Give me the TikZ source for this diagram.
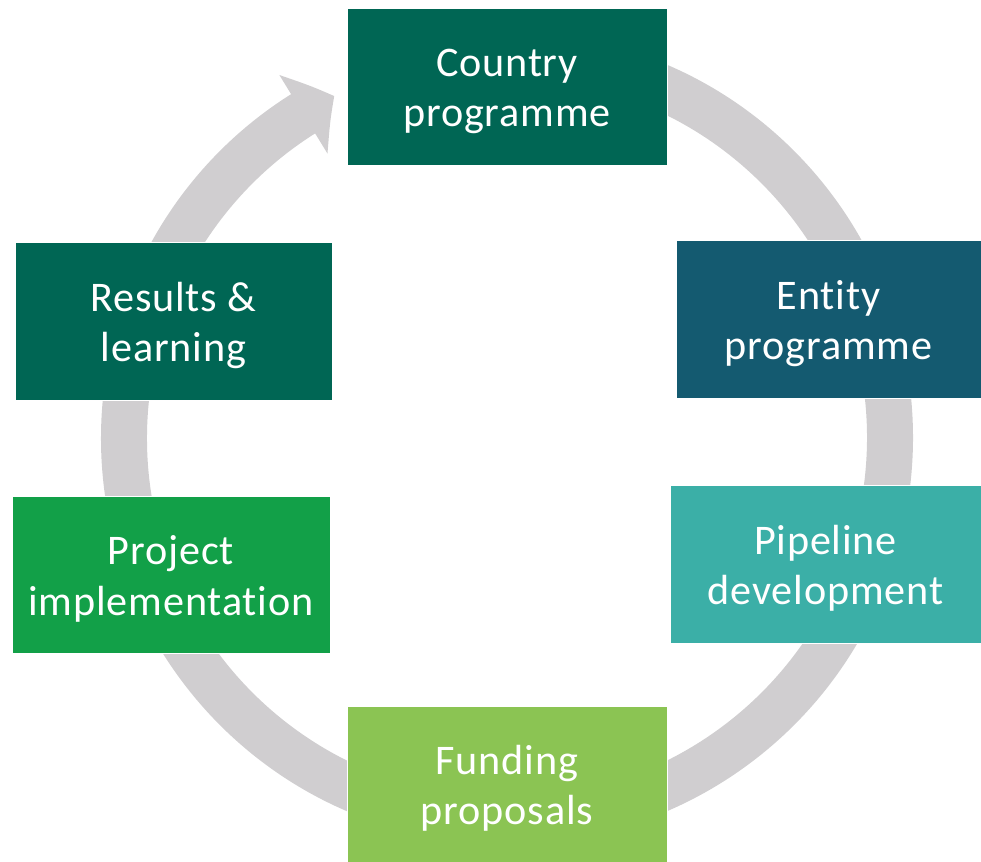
\documentclass[tikz,border=0pt]{standalone}
\usepackage{fontspec}
\newfontfamily\stagefont[Ligatures=NoCommon, LetterSpace=2]{Carlito}
\usepackage{tikz}
\usetikzlibrary{arrows.meta,bending,positioning,calc}
\definecolor{cpgreen}{RGB}{0,102,84}
\definecolor{entblue}{RGB}{20,90,112}
\definecolor{pipeteal}{RGB}{59,175,167}
\definecolor{fundlime}{RGB}{139,196,83}
\definecolor{projgreen}{RGB}{18,160,72}
\definecolor{ringgray}{RGB}{208,206,208}
\def\lift{\rule{0pt}{21.5pt}}
\tikzset{
  stage/.style={rectangle, draw=white, line width=0.5pt, text=white, align=center,
    font=\stagefont\fontsize{24}{28.5}\selectfont, inner sep=0pt},
  ring/.style={draw=ringgray, line width=0.92cm,
    -{Triangle[length=0.72cm, width=1.8cm, bend]}}
}

\begin{document}
\begin{tikzpicture}[x=0.02cm, y=0.02cm]
    \useasboundingbox (0,0) rectangle (981,862);
    % Centre and radius of the cycle
    \def\Rring{383}
    \coordinate (M) at (507,424);

    % Cycle ring with its head
    \draw[ring] ($(M)+(85:\Rring)$) arc (85:-243.2:\Rring);

    % Stages
    \node[stage, fill=cpgreen, minimum width=6.4cm, minimum height=3.14cm]
      (country) at (507,775.5) {\lift Country\\programme};
    \node[stage, fill=entblue, minimum width=6.1cm, minimum height=3.16cm]
      (entity) at (828.5,543) {\lift Entity\\programme};
    \node[stage, fill=pipeteal, minimum width=6.22cm, minimum height=3.16cm]
      (pipeline) at (825.5,298) {\lift Pipeline\\development};
    \node[stage, fill=fundlime, minimum width=6.4cm, minimum height=3.12cm]
      (funding) at (507,78) {\lift Funding\\proposals};
    \node[stage, fill=projgreen, minimum width=6.36cm, minimum height=3.14cm]
      (project) at (171,287.5) {\lift Project\\implementation};
    \node[stage, fill=cpgreen, minimum width=6.34cm, minimum height=3.16cm]
      (results) at (173.5,541) {\lift Results \&\\learning};
\end{tikzpicture}
\end{document}
